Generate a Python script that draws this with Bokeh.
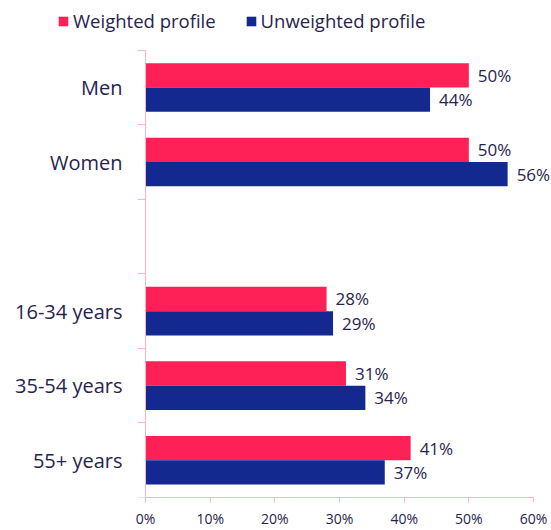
from bokeh.plotting import figure
from bokeh.models import (Range1d, FixedTicker, ColumnDataSource, Legend, LegendItem, LabelSet)
from bokeh.core.properties import value
from bokeh.embed import file_html
from bokeh.resources import INLINE

categories = ["Men", "Women", "", "16-34 years", "35-54 years", "55+ years"]
weighted = [50, 50, None, 28, 31, 41]
unweighted = [44, 56, None, 29, 34, 37]
series_names = ["Weighted profile", "Unweighted profile"]
x_ticks = [0, 10, 20, 30, 40, 50, 60]

RED = "#fe2157"
BLUE = "#14298f"
AXIS = "#ffb3c0"
TEXT = "#27234f"
FONT = "Open Sans"

W, H = 551, 530
X0, X60 = 145, 533          # pixel positions of 0% and 60%
CAT_TOP, CAT_BOTTOM = 50, 500
BOTTOM_BORDER = H - CAT_BOTTOM
ncat = len(categories)
px_per_x = (X60 - X0) / 60
px_per_cat = (CAT_BOTTOM - CAT_TOP) / ncat

p = figure(width=W, height=H, output_backend="svg", toolbar_location=None,
           x_range=Range1d(-X0 / px_per_x, (W - X0) / px_per_x),
           y_range=Range1d(ncat, -CAT_TOP / px_per_cat),
           min_border_left=0, min_border_right=0, min_border_top=0,
           min_border_bottom=BOTTOM_BORDER)
p.outline_line_color = None
p.xgrid.visible = False
p.ygrid.visible = False

def src(vals, off):
    ys, xs, labs = [], [], []
    for i, v in enumerate(vals):
        if v is None:
            continue
        ys.append(i + 0.5 + off)
        xs.append(v)
        labs.append(f"{v}%")
    return ColumnDataSource(dict(y=ys, x=xs, lab=labs))

s_w = src(weighted, -0.163)
s_u = src(unweighted, 0.163)
r_w = p.hbar(y="y", right="x", left=0, height=0.326, source=s_w, fill_color=RED, line_color=None)
r_u = p.hbar(y="y", right="x", left=0, height=0.326, source=s_u, fill_color=BLUE, line_color=None)

for s in (s_w, s_u):
    p.add_layout(LabelSet(x="x", y="y", text="lab", source=s, x_offset=9,
                          text_baseline="middle", text_align="left",
                          text_font=value(FONT), text_font_size="17px", text_color=TEXT))

# x axis
xa = p.xaxis[0]
xa.ticker = FixedTicker(ticks=x_ticks, minor_ticks=[])
xa.bounds = (0, 60)
xa.major_label_overrides = {t: f"{t}%" for t in x_ticks}
xa.axis_line_color = AXIS
xa.major_tick_line_color = AXIS
xa.major_tick_out = 5
xa.major_tick_in = 0
xa.major_label_text_font = FONT
xa.major_label_text_font_size = "14px"
xa.major_label_text_color = TEXT
xa.major_label_standoff = 6

# y axis, pinned at x = 0
ya = p.yaxis[0]
centers = [i + 0.5 for i in range(ncat)]
ya.fixed_location = 0
ya.bounds = (0, ncat)
ya.ticker = FixedTicker(ticks=centers, minor_ticks=list(range(ncat + 1)))
ya.major_label_overrides = {c: lab for c, lab in zip(centers, categories)}
ya.axis_line_color = AXIS
ya.major_tick_line_color = None
ya.major_tick_out = 0
ya.major_tick_in = 0
ya.minor_tick_line_color = AXIS
ya.minor_tick_out = 8
ya.minor_tick_in = 0
ya.major_label_text_font = FONT
ya.major_label_text_font_size = "20px"
ya.major_label_text_color = TEXT
ya.major_label_standoff = 15

legend = Legend(items=[LegendItem(label=series_names[0], renderers=[r_w]),
                       LegendItem(label=series_names[1], renderers=[r_u])],
                orientation="horizontal", location=(57, CAT_BOTTOM - 36),
                glyph_width=12, glyph_height=12, label_standoff=4, spacing=29,
                padding=0, margin=0, border_line_color=None, background_fill_alpha=0,
                label_text_font=FONT, label_text_font_size="18.5px", label_text_color=TEXT,
                label_height=18)
p.add_layout(legend, "center")

open("out.html", "w").write(file_html(p, INLINE))
